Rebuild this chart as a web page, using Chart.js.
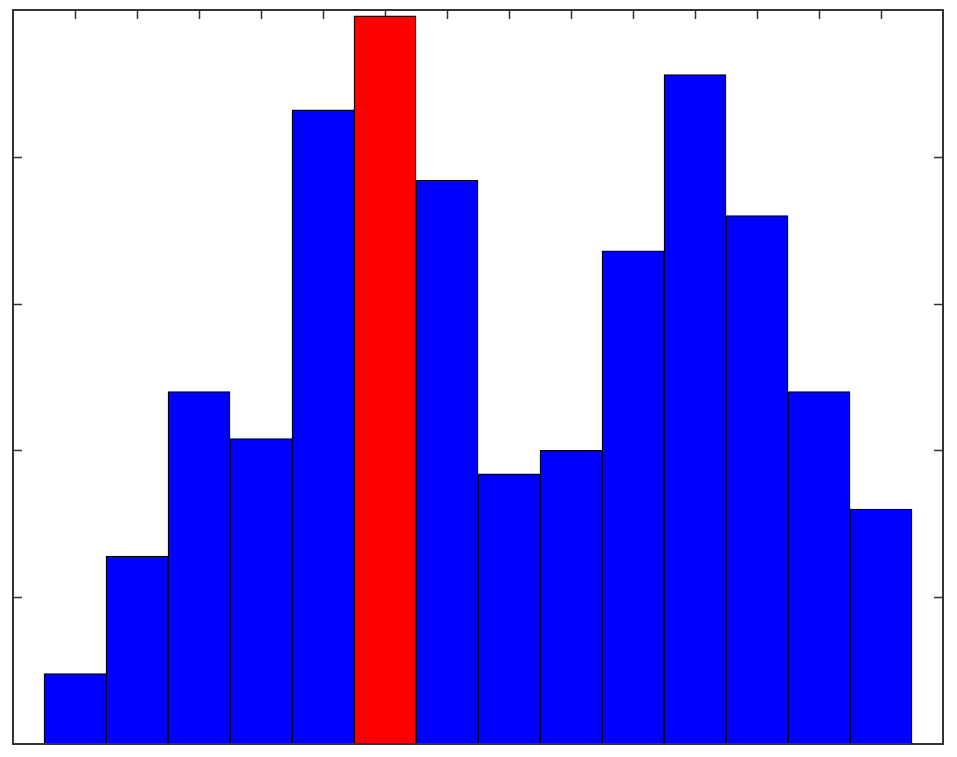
<!DOCTYPE html>
<html>
<head>
<meta charset="utf-8">
<script src="https://cdn.jsdelivr.net/npm/chart.js@4/dist/chart.umd.min.js"></script>
<style>
  html, body { margin: 0; padding: 0; background: #fff; }
  canvas { display: block; }
</style>
</head>
<body>
<canvas id="hist" width="957" height="757"></canvas>
<script>
// bin centres and counts
const binCenters = [1, 2, 3, 4, 5, 6, 7, 8, 9, 10, 11, 12, 13, 14];
const counts = [6, 16, 30, 26, 54, 62, 48, 23, 25, 42, 57, 45, 30, 20];
const highlightBin = 6; // the red one

const xTicks = [1, 2, 3, 4, 5, 6, 7, 8, 9, 10, 11, 12, 13, 14];
const yTicks = [12.5, 25, 37.5, 50];

const AXIS_COLOR = '#333333';
const TICK_LEN = 9;

let barColors = binCenters.map(c => c === highlightBin ? '#ff0000' : '#0000ff');

// matlab style box with inward ticks
const boxAxes = {
    id: 'boxAxes',
    beforeDatasetsDraw(chart) {
        const ctx = chart.ctx;
        const a = chart.chartArea;
        const x = chart.scales.x, y = chart.scales.y;
        ctx.save();
        ctx.strokeStyle = AXIS_COLOR;
        ctx.lineWidth = 1.5;
        ctx.beginPath();
        xTicks.forEach(v => {
            const px = Math.round(x.getPixelForValue(v)) + 0.5;
            ctx.moveTo(px, a.top); ctx.lineTo(px, a.top + TICK_LEN);
            ctx.moveTo(px, a.bottom); ctx.lineTo(px, a.bottom - TICK_LEN);
        });
        yTicks.forEach(v => {
            const py = Math.round(y.getPixelForValue(v)) + 0.5;
            ctx.moveTo(a.left, py); ctx.lineTo(a.left + TICK_LEN, py);
            ctx.moveTo(a.right, py); ctx.lineTo(a.right - TICK_LEN, py);
        });
        ctx.stroke();
        ctx.restore();
    },
    afterDatasetsDraw(chart) {
        const ctx = chart.ctx;
        const a = chart.chartArea;
        ctx.save();
        ctx.strokeStyle = AXIS_COLOR;
        ctx.lineWidth = 2;
        ctx.strokeRect(a.left, a.top, a.right - a.left, a.bottom - a.top);
        ctx.restore();
    }
};

new Chart(document.getElementById('hist'), {
    type: 'bar',
    data: {
        datasets: [{
            data: binCenters.map((c, i) => ({ x: c, y: counts[i] })),
            backgroundColor: barColors,
            borderColor: '#000000',
            borderWidth: 1.2,
            borderSkipped: false,
            barPercentage: 1,
            categoryPercentage: 1
        }]
    },
    options: {
        responsive: false,
        animation: false,
        devicePixelRatio: 1,
        layout: { padding: { left: 13, top: 10, right: 14, bottom: 13 } },
        plugins: { legend: { display: false }, tooltip: { enabled: false } },
        scales: {
            x: { type: 'linear', min: 0, max: 15, offset: false, grid: { offset: false }, display: false },
            y: { min: 0, max: 62.5, display: false }
        }
    },
    plugins: [boxAxes]
});
</script>
</body>
</html>
